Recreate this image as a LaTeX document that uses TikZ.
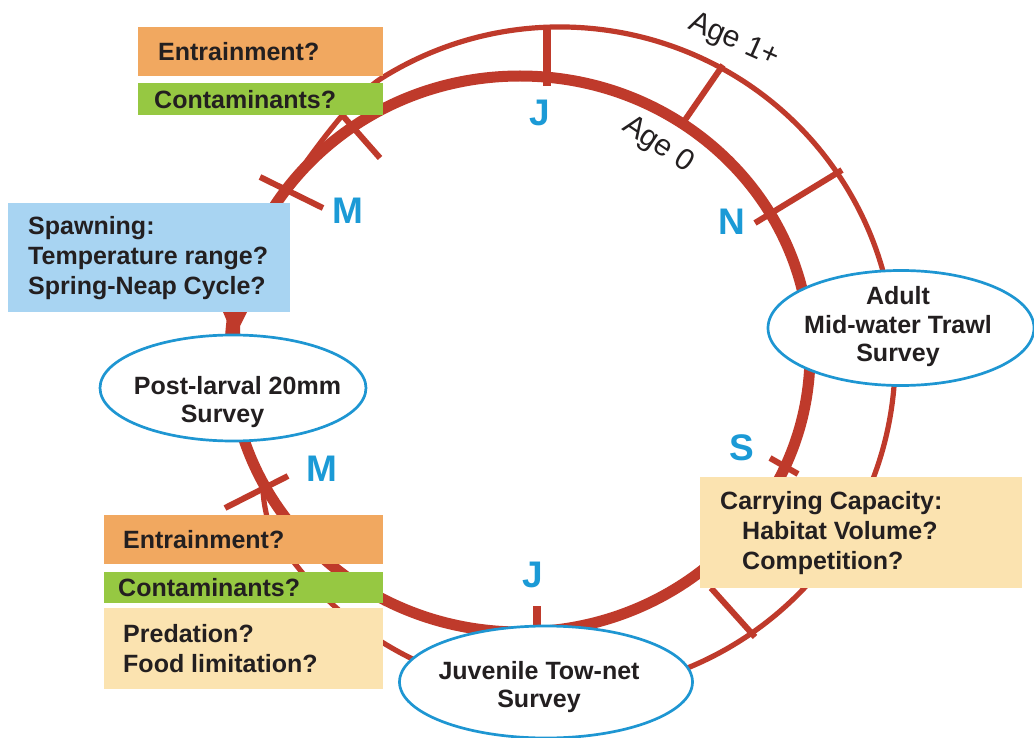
\documentclass[tikz,border=0pt]{standalone}
\usepackage{fontspec}
\setmainfont{Liberation Sans}
\usetikzlibrary{shapes.geometric,calc}
\definecolor{ringred}{HTML}{BF3A2B}
\definecolor{lblue}{HTML}{1B9AD6}
\definecolor{eblue}{HTML}{1E96D2}
\definecolor{orangebox}{HTML}{F1A860}
\definecolor{greenbox}{HTML}{96C842}
\definecolor{bluebox}{HTML}{A8D4F2}
\definecolor{tanbox}{HTML}{FBE3B0}
\definecolor{ink}{HTML}{231F20}
\begin{document}
\begin{tikzpicture}[x=1pt,y=-1pt,
  ring/.style={draw=ringred, line width=11pt},
  outerring/.style={draw=ringred, line width=5.2pt},
  tickline/.style={draw=ringred, line width=6pt},
  box/.style={rectangle, draw=none, inner sep=0pt, anchor=north west},
  txt/.style={text=ink, font=\fontsize{25}{30}\selectfont\bfseries, align=left, inner sep=0pt, anchor=west},
  survey/.style={ellipse, draw=eblue, line width=2.7pt, fill=white, inner sep=0pt},
  stxt/.style={text=ink, font=\fontsize{25}{28}\selectfont\bfseries, align=center, inner sep=0pt},
  month/.style={text=lblue, font=\fontsize{37}{40}\selectfont\bfseries, inner sep=0pt},
  agelabel/.style={text=ink, font=\fontsize{30}{32}\selectfont, inner sep=0pt}
]
\fill[white] (0,0) rectangle (1034,738);
\useasboundingbox (0,0) rectangle (1034,738);

% rings
\draw[ring] (520,354) ellipse [x radius=290, y radius=278];
\draw[outerring] (282,196) .. controls (302,168) and (348,99) .. (382.5,77.6)
  arc[start angle=-122, end angle=150.3, x radius=335, y radius=333]
  .. controls (265,510) and (263,498) .. (263,487);

% ticks
\draw[tickline, line width=7.5pt] (547,28) -- (547,86);
\draw[tickline] (343,116) -- (380,158);
\draw[tickline] (260,177) -- (323,208);
\draw[tickline] (685,120) -- (723,65);
\draw[tickline] (755,223) -- (842,170);
\draw[tickline] (770,458) -- (798,474);
\draw[tickline] (711,588) -- (755,637);
\draw[tickline, line width=8pt] (537,606) -- (537,630);
\draw[tickline] (225,508) -- (288,476);
\fill[ringred] (223,312) -- (247,312) -- (240,326) -- (240,336) -- (229,336) -- (229,326) -- cycle;

% boxes
\node[box, fill=orangebox, minimum width=245pt, minimum height=49pt] (ent1) at (138,27) {};
\node[box, fill=greenbox, minimum width=245pt, minimum height=32pt] (con1) at (138,83) {};
\node[box, fill=bluebox, minimum width=282pt, minimum height=109pt] (spawn) at (8,203) {};
\node[box, fill=tanbox, minimum width=322pt, minimum height=111pt] (carry) at (700,477) {};
\node[box, fill=orangebox, minimum width=279pt, minimum height=49pt] (ent2) at (104,515) {};
\node[box, fill=greenbox, minimum width=279pt, minimum height=31pt] (con2) at (104,572) {};
\node[box, fill=tanbox, minimum width=279pt, minimum height=81pt] (pred) at (104,608) {};

\node[txt] (ent1t) at ([xshift=20pt]ent1.west) {Entrainment?};
\node[txt] (con1t) at ([xshift=16pt]con1.west) {Contaminants?};
\node[txt] (spawnt) at ([xshift=20pt]spawn.west) {Spawning:\\Temperature range?\\Spring-Neap Cycle?};
\node[txt] (carryt) at ([xshift=20pt]carry.west) {Carrying Capacity:\\\hspace*{22pt}Habitat Volume?\\\hspace*{22pt}Competition?};
\node[txt] (ent2t) at ([xshift=19pt]ent2.west) {Entrainment?};
\node[txt] (con2t) at ([xshift=14pt]con2.west) {Contaminants?};
\node[txt] (predt) at ([xshift=19pt]pred.west) {Predation?\\Food limitation?};

% survey ellipses
\node[survey, minimum width=266pt, minimum height=106pt] (pl) at (233,388) {};
\node[stxt] (plt) at (237.5,402.5) {Post-larval 20mm\\Survey\hspace*{30pt}};
\node[survey, minimum width=266pt, minimum height=115pt] (ad) at (901,328) {};
\node[stxt, font=\fontsize{25}{28.5}\selectfont\bfseries] (adt) at (898,327) {Adult\\Mid-water Trawl\\Survey};
\node[survey, minimum width=293pt, minimum height=112pt] (jv) at (546,682) {};
\node[stxt] (jvt) at (539,687.5) {Juvenile Tow-net\\Survey};

% months
\node[month] (jtop) at (540,113) {J};
\node[month] (mup) at (348,211) {M};
\node[month] (nov) at (732,222) {N};
\node[month] (sep) at (742,448) {S};
\node[month] (mlow) at (322,469) {M};
\node[month] (jbot) at (533,575) {J};

% age labels
\node[agelabel, rotate=-24] (age1) at (734,41) {Age 1+};
\node[agelabel, rotate=-34] (age0) at (658,145) {Age 0};
\end{tikzpicture}
\end{document}
